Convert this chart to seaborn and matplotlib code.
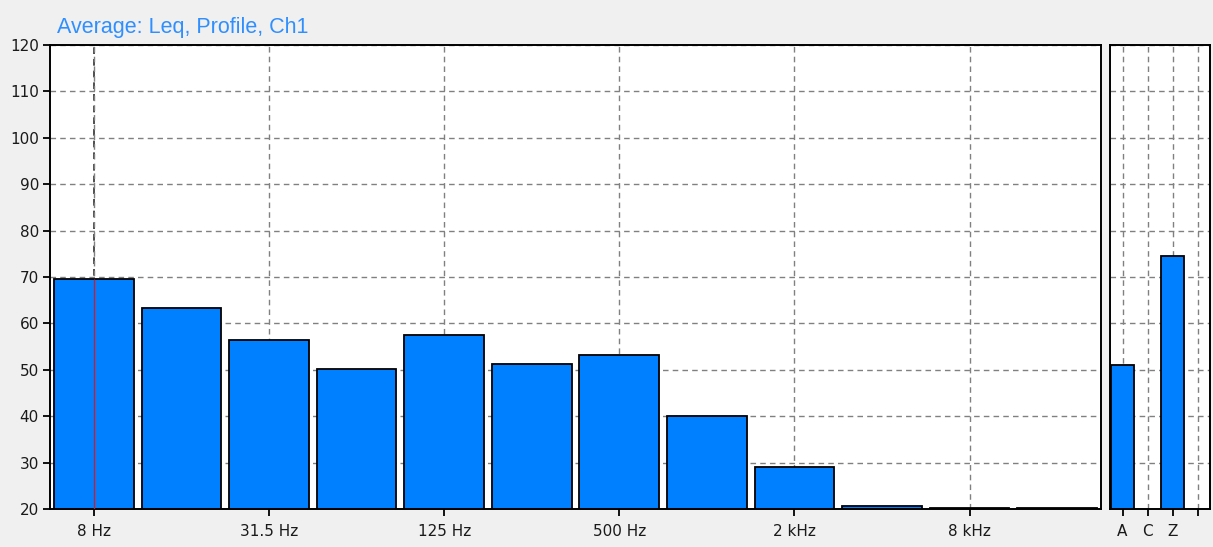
import matplotlib
matplotlib.use("Agg")
import matplotlib.pyplot as plt
import seaborn as sns
import pandas as pd
import numpy as np

# Octave-band Leq levels (dB)
bands = ["8 Hz", "16 Hz", "31.5 Hz", "63 Hz", "125 Hz", "250 Hz",
         "500 Hz", "1 kHz", "2 kHz", "4 kHz", "8 kHz", "16 kHz"]
band_levels = [69.6, 63.3, 56.4, 50.2, 57.5, 51.3, 53.1, 40.0, 29.1, 20.7, 20.3, 20.3]

# Broadband weighted levels (dB)
weightings = ["A", "C", "Z", ""]
weight_names = ["A", "Z"]
weight_levels = [51.0, 74.5]

y_ticks = list(range(20, 121, 10))

sns.set_theme(style="white")
plt.rcParams["font.family"] = ["DejaVu Sans"]

BG = "#f0f0f0"
BAR = "#0080ff"
GRID = "#808080"
TXT = "#1a1a1a"
TICK_FS = 11

W, H = 1213, 547
fig = plt.figure(figsize=(W / 100, H / 100), dpi=100, facecolor=BG)


def px_axes(left, top, right, bottom):
    return fig.add_axes([left / W, 1 - bottom / H, (right - left) / W, (bottom - top) / H])


ax = px_axes(50, 45, 1101, 509)
ax2 = px_axes(1110, 45, 1210, 509)

df_bands = pd.DataFrame({"band": bands, "level": band_levels})
df_w = pd.DataFrame({"w": weight_names, "level": weight_levels})

for a in (ax, ax2):
    a.set_facecolor("white")
    a.set_axisbelow(True)
    for s in a.spines.values():
        s.set_color("black")
        s.set_linewidth(1.4)
    a.set_ylim(20, 120)
    a.set_yticks(y_ticks)
    a.yaxis.grid(True, color=GRID, linestyle=(0, (4, 3)), linewidth=1.0)

sns.barplot(data=df_bands, x="band", y="level", order=bands, ax=ax,
            color=BAR, saturation=1, width=0.91, edgecolor="black", linewidth=1.3)
sns.barplot(data=df_w, x="w", y="level", order=weightings, ax=ax2,
            color=BAR, saturation=1, width=0.9, edgecolor="black", linewidth=1.3)

ax.set_xlim(-0.5, len(bands) - 0.5)
ax2.set_xlim(-0.5, len(weightings) - 0.5)

# labelled octave ticks, every other band
tick_pos = list(range(0, len(bands), 2))
ax.set_xticks(tick_pos)
ax.set_xticklabels([bands[i] for i in tick_pos])
ax.xaxis.grid(True, color=GRID, linestyle=(0, (4, 3)), linewidth=1.0)
ax2.set_xticks(range(len(weightings)))
ax2.set_xticklabels(weightings)
ax2.xaxis.grid(True, color=GRID, linestyle=(0, (4, 3)), linewidth=1.0)

# cursor on the first band
ax.axvline(0, color="#303030", linestyle=(0, (4, 3)), linewidth=1.2, zorder=0.5)
ax.vlines(0, 20, band_levels[0], color="#c0203a", linewidth=1.0, zorder=5)

ax.set_xlabel("")
ax.set_ylabel("")
ax2.set_xlabel("")
ax2.set_ylabel("")

ax.tick_params(axis="both", which="both", direction="out", length=5, width=1.3,
               color="black", labelsize=TICK_FS, labelcolor=TXT, pad=3,
               left=True, bottom=True)
ax.tick_params(axis="x", pad=6)
ax2.tick_params(axis="x", direction="out", length=5, width=1.3, color="black",
                labelsize=TICK_FS, labelcolor=TXT, pad=6, bottom=True)
ax2.tick_params(axis="y", left=False, labelleft=False)

fig.text(57 / W, 1 - 27 / H, "Average: Leq, Profile, Ch1", color="#2f8fff",
         fontsize=15.5, ha="left", va="center",
         family=["Liberation Sans", "DejaVu Sans"])

fig.savefig("out.png", dpi=100, facecolor=BG)
